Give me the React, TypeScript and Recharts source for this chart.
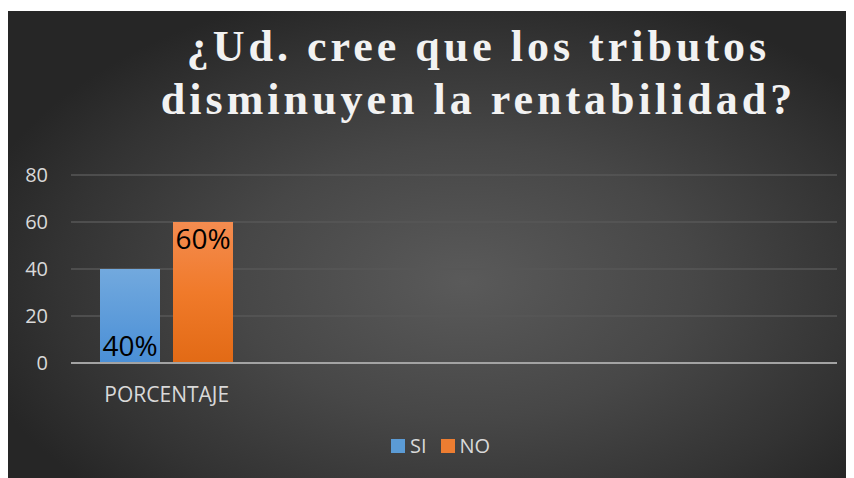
import React from "react";
import { BarChart, Bar, XAxis, YAxis, CartesianGrid, Legend, LabelList } from "recharts";

const categories = ["PORCENTAJE", "", "", ""];
const siValues: (number | null)[] = [40, null, null, null];
const noValues: (number | null)[] = [60, null, null, null];
const yTicks = [0, 20, 40, 60, 80];
const titleLines = ["¿Ud. cree que los tributos", "disminuyen la rentabilidad?"];
const seriesNames = ["SI", "NO"];

const data = categories.map((c, i) => ({ name: c, si: siValues[i], no: noValues[i] }));

const W = 845;
const H = 467;
const FONT = "'Open Sans', 'Noto Sans', sans-serif";

const LegendContent = () => (
  <div style={{ display: "flex", alignItems: "center", fontFamily: FONT, fontSize: 20, color: "#d9d9d9", lineHeight: "24px" }}>
    <span style={{ display: "inline-block", width: 14, height: 14, background: "#5b9bd5", marginRight: 5 }} />
    <span style={{ marginRight: 14 }}>{seriesNames[0]}</span>
    <span style={{ display: "inline-block", width: 14, height: 14, background: "#ed7d31", marginRight: 5 }} />
    <span>{seriesNames[1]}</span>
  </div>
);

export default function App() {
  return (
    <div
      style={{
        position: "relative",
        width: W,
        height: H,
        marginTop: 3,
        background:
          "radial-gradient(ellipse 60% 65% at 54% 58%, #5a5a5a 0%, #474747 45%, #333333 80%, #262626 100%)",
        overflow: "hidden",
      }}
    >
      <div
        style={{
          position: "absolute",
          left: 0,
          top: 9,
          width: W,
          boxSizing: "border-box",
          paddingLeft: 96,
          textAlign: "center",
          fontFamily: "'Liberation Serif', 'Times New Roman', serif",
          fontWeight: "bold",
          fontSize: 44,
          lineHeight: "53px",
          letterSpacing: 4,
          color: "#f2f2f2",
          whiteSpace: "nowrap",
        }}
      >
        <div>{titleLines[0]}</div>
        <div>{titleLines[1]}</div>
      </div>
      <div style={{ position: "absolute", left: 0, top: 0 }}>
        <BarChart
          width={W}
          height={H}
          data={data}
          margin={{ top: 164, right: 16, left: 0, bottom: 61 }}
          barCategoryGap={29}
          barGap={13}
        >
          <defs>
            <linearGradient id="gSi" x1="0" y1="0" x2="0" y2="1">
              <stop offset="0%" stopColor="#72a9de" />
              <stop offset="100%" stopColor="#4a8fd6" />
            </linearGradient>
            <linearGradient id="gNo" x1="0" y1="0" x2="0" y2="1">
              <stop offset="0%" stopColor="#f48c50" />
              <stop offset="50%" stopColor="#f07a2a" />
              <stop offset="100%" stopColor="#e26a15" />
            </linearGradient>
          </defs>
          <CartesianGrid vertical={false} stroke="#575757" strokeWidth={1.5} />
          <XAxis
            dataKey="name"
            tickLine={false}
            axisLine={{ stroke: "#a3a3a3", strokeWidth: 2 }}
            tickSize={0}
            tickMargin={24}
            interval={0}
            tick={{ fill: "#d9d9d9", fontSize: 21, fontFamily: FONT }}
          />
          <YAxis
            domain={[0, 80]}
            ticks={yTicks}
            width={63}
            tickLine={false}
            axisLine={false}
            tickSize={0}
            tickMargin={23}
            tick={{ fill: "#d9d9d9", fontSize: 20, fontFamily: FONT }}
          />
          <Legend
            layout="vertical"
            align="center"
            verticalAlign="bottom"
            content={<LegendContent />}
            wrapperStyle={{ position: "absolute", left: 383, top: 423, width: "auto", bottom: "auto" }}
          />
          <Bar dataKey="si" name={seriesNames[0]} fill="url(#gSi)" isAnimationActive={false}>
            <LabelList
              dataKey="si"
              position="insideBottom"
              offset={7}
              formatter={(v: any) => (v == null ? "" : `${v}%`)}
              style={{ fill: "#000", fontSize: 28, fontFamily: FONT }}
            />
          </Bar>
          <Bar dataKey="no" name={seriesNames[1]} fill="url(#gNo)" isAnimationActive={false}>
            <LabelList
              dataKey="no"
              position="insideTop"
              offset={7}
              formatter={(v: any) => (v == null ? "" : `${v}%`)}
              style={{ fill: "#000", fontSize: 28, fontFamily: FONT }}
            />
          </Bar>
        </BarChart>
      </div>
    </div>
  );
}
